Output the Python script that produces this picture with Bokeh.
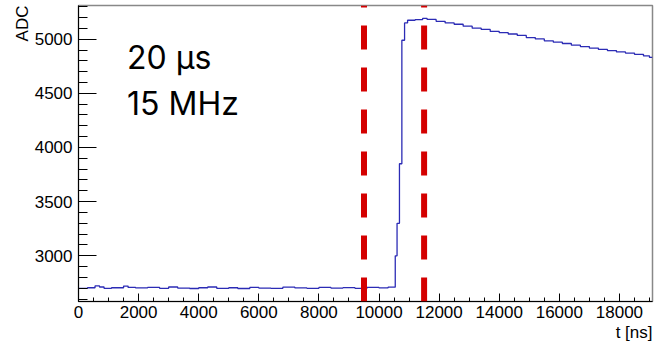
import math
from bokeh.plotting import figure
from bokeh.models import Range1d, SingleIntervalTicker, Label, Span, Title
from bokeh.embed import file_html
from bokeh.resources import INLINE

# ---- data ----
t_ns = [0, 300, 550, 700, 850, 1100, 1500, 1650, 1900, 2300, 2700, 3000, 3300, 3700,
        4000, 4300, 4600, 5000, 5300, 5700, 6000, 6400, 6800, 7200, 7600, 8000, 8400,
        8800, 9200, 9600, 10000, 10300,
        10540, 10600, 10680, 10760, 10850, 10950, 11200, 11450, 11600, 11900, 12200,
        12500, 12800, 13100, 13400, 13700, 14000, 14300, 14600, 14900, 15200, 15500,
        15800, 16100, 16400, 16700, 17000, 17300, 17600, 17900, 18200, 18500, 18800,
        19000, 19100]
adc = [2700, 2705, 2722, 2712, 2700, 2705, 2720, 2708, 2703, 2708, 2700, 2712, 2702, 2698,
       2705, 2712, 2700, 2705, 2698, 2708, 2702, 2700, 2710, 2703, 2700, 2708, 2702,
       2706, 2700, 2708, 2703, 2710,
       3000, 3300, 3850, 4990, 5150, 5175, 5180, 5192, 5182, 5165, 5150,
       5138, 5120, 5102, 5090, 5072, 5060, 5048, 5035, 5015, 5002, 4985,
       4972, 4960, 4945, 4932, 4918, 4905, 4895, 4882, 4872, 4860, 4845,
       4832, 4832]
markers_ns = [9500, 11500]
x_range = (0, 19100)
y_range = (2578, 5311)
annotation_lines = ["20 µs", "15 MHz"]
x_title = "t [ns]"
y_title = "ADC"

p = figure(width=654, height=341, output_backend="svg", toolbar_location=None,
           x_range=Range1d(*x_range), y_range=Range1d(*y_range),
           min_border_left=78, min_border_right=2, min_border_top=5, min_border_bottom=40)
p.background_fill_color = "white"
p.border_fill_color = "white"
p.outline_line_color = "#888888"
p.outline_line_width = 1.5
p.xgrid.visible = False
p.ygrid.visible = False

p.step(t_ns, adc, mode="after", line_color="#2b2bb5", line_width=1.3)

for m in markers_ns:
    p.add_layout(Span(location=m, dimension="height", line_color="#d40000",
                      line_width=6, line_dash="24 18", line_dash_offset=22))

font = "Liberation Sans"
for ax in (p.xaxis[0], p.yaxis[0]):
    ax.axis_line_color = "black"
    ax.major_tick_line_color = "black"
    ax.minor_tick_line_color = "black"
    ax.major_label_text_font = font
    ax.major_label_text_font_size = "17px"
    ax.major_label_text_color = "black"
    ax.major_tick_out = 0
    ax.minor_tick_out = 0

p.xaxis.ticker = SingleIntervalTicker(interval=2000, num_minor_ticks=4)
p.yaxis.ticker = SingleIntervalTicker(interval=500, num_minor_ticks=5)
p.xaxis.major_tick_in = 8
p.xaxis.minor_tick_in = 4
p.yaxis.major_tick_in = 18
p.yaxis.minor_tick_in = 9
p.yaxis.major_label_standoff = 6
p.xaxis.major_label_standoff = 4
p.yaxis.major_label_orientation = "horizontal"

p.add_layout(Title(text=x_title, align="right", text_font=font, text_font_size="17px",
                   text_font_style="normal", text_color="black", standoff=0, offset=0), "below")
p.add_layout(Title(text=y_title, align="right", text_font=font, text_font_size="17px",
                   text_font_style="normal", text_color="black", standoff=0, offset=0), "left")

p.add_layout(Label(x=1615, y=4831, text=annotation_lines[0], text_font="Inter",
                   text_font_size="32px", text_color="black", text_baseline="alphabetic"))
p.add_layout(Label(x=1615, y=4406, text=annotation_lines[1], text_font="Inter",
                   text_font_size="32px", text_color="black", text_baseline="alphabetic"))

open("out.html", "w").write(file_html(p, INLINE))
